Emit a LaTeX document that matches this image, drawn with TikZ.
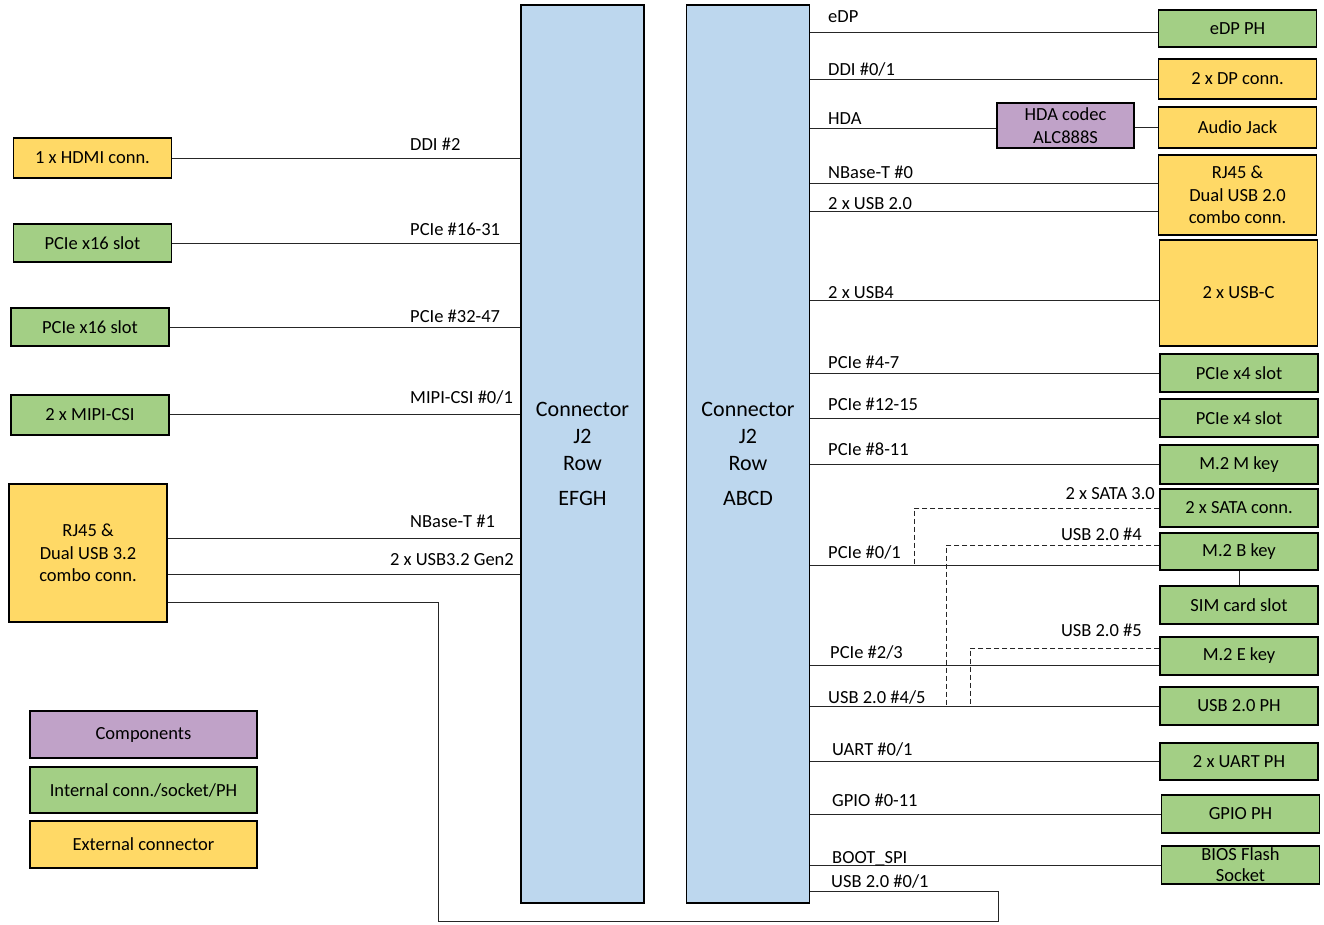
\documentclass[tikz,border=0pt]{standalone}
\usepackage{fontspec}
\setmainfont{Carlito}
\usepackage{tikz}
\usetikzlibrary{calc}

\definecolor{connblue}{HTML}{BDD7EE}
\definecolor{intgreen}{HTML}{A3CF85}
\definecolor{extyellow}{HTML}{FFD966}
\definecolor{comppurple}{HTML}{C0A2C8}

\tikzset{
  box/.style={draw, line width=1.4pt, minimum width=158pt, minimum height=38pt,
              align=center, inner sep=1pt, font=\fontsize{18.5}{22.5}\selectfont},
  int/.style={box, fill=intgreen},
  ext/.style={box, fill=extyellow},
  comp/.style={box, fill=comppurple},
  conn/.style={draw, line width=1.4pt, fill=connblue, minimum width=123pt,
               minimum height=898pt, align=center, font=\fontsize{22}{27}\selectfont},
  lbl/.style={inner sep=0pt, font=\fontsize{18.5}{20}\selectfont},
  wire/.style={line width=0.9pt, black!85},
  side/.style={wire, dash pattern=on 5pt off 3pt}
}

\begin{document}
\begin{tikzpicture}[x=1pt, y=-1pt]
  \useasboundingbox (0,0) rectangle (1324,924);

  % the two rows of connector J2
  \node[conn] (efgh) at (582.5,454) {Connector\\J2\\Row\\[8pt]EFGH};
  \node[conn] (abcd) at (748,454)   {Connector\\J2\\Row\\[8pt]ABCD};

  % left side
  \node[ext] (hdmi)  at (92.5,158) [minimum height=40pt] {1 x HDMI conn.};
  \node[int] (x16a)  at (92.5,243)  {PCIe x16 slot};
  \node[int] (x16b)  at (90,327)    {PCIe x16 slot};
  \node[int] (mipi)  at (90,415) [minimum height=40pt] {2 x MIPI-CSI};
  \node[ext] (rjl)   at (88,553) [minimum height=138pt] {RJ45 \&\\Dual USB 3.2\\combo conn.};

  % legend
  \node[comp] (lgcomp) at (143.5,734.5) [minimum width=227pt, minimum height=47pt] {Components};
  \node[int]  (lgint)  at (143.5,790)   [minimum width=227pt, minimum height=46pt] {Internal conn./socket/PH};
  \node[ext]  (lgext)  at (143.5,844.5) [minimum width=227pt, minimum height=47pt] {External connector};

  % right side
  \node[int]  (edp)   at (1237.5,28.5) [minimum height=37pt] {eDP PH};
  \node[ext]  (dp)    at (1237.5,79) [minimum height=40pt] {2 x DP conn.};
  \node[comp] (codec) at (1065.5,125.5) [minimum width=137pt, minimum height=45pt] {HDA codec\\ALC888S};
  \node[ext]  (audio) at (1237.5,127.5) [minimum height=41pt] {Audio Jack};
  \node[ext]  (rjr)   at (1237.5,195) [minimum height=80pt] {RJ45 \&\\Dual USB 2.0\\combo conn.};
  \node[ext]  (usbc)  at (1238.5,293) [minimum height=106pt] {2 x USB-C};
  \node[int]  (x4a)   at (1239,373)   {PCIe x4 slot};
  \node[int]  (x4b)   at (1239,418)   {PCIe x4 slot};
  \node[int]  (m2m)   at (1239,464.5) [minimum height=39pt] {M.2 M key};
  \node[int]  (sata)  at (1239,508)   {2 x SATA conn.};
  \node[int]  (m2b)   at (1239,551.5) [minimum height=37pt] {M.2 B key};
  \node[int]  (sim)   at (1239,605)   {SIM card slot};
  \node[int]  (m2e)   at (1239,656)   {M.2 E key};
  \node[int]  (usbph) at (1239,706)   {USB 2.0 PH};
  \node[int]  (uart)  at (1239,761.5) [minimum height=37pt] {2 x UART PH};
  \node[int]  (gpio)  at (1240.5,814) {GPIO PH};
  \node[int]  (bios)  at (1240.5,865) [font=\fontsize{18.5}{21}\selectfont] {BIOS Flash\\Socket};

  % left wires
  \draw[wire] (hdmi.east) -- (efgh.west |- hdmi.east);
  \draw[wire] (x16a.east) -- (efgh.west |- x16a.east);
  \draw[wire] (x16b.east) -- (efgh.west |- x16b.east);
  \draw[wire] (mipi.east |- 0,414) -- (efgh.west |- 0,414);
  \draw[wire] (rjl.east |- 0,538) -- (efgh.west |- 0,538);
  \draw[wire] (rjl.east |- 0,574) -- (efgh.west |- 0,574);
  \draw[wire] (rjl.east |- 0,602) -| (438,921) -| (998,891) -- (abcd.east |- 0,891);

  \node[lbl, anchor=base west] (tddi2)  at (410,150) {DDI \#2};
  \node[lbl, anchor=base west] (tx16a)  at (410,235) {PCIe \#16-31};
  \node[lbl, anchor=base west] (tx16b)  at (410,322) {PCIe \#32-47};
  \node[lbl, anchor=base west] (tmipi)  at (410,403) {MIPI-CSI \#0/1};
  \node[lbl, anchor=base west] (tnbt1)  at (410,527) {NBase-T \#1};
  \node[lbl, anchor=base east] (tusb32) at (514,565) {2 x USB3.2 Gen2};

  % right wires
  \draw[wire] (abcd.east |- 0,32)  -- (edp.west |- 0,32);
  \draw[wire] (abcd.east |- 0,79)  -- (dp.west);
  \draw[wire] (abcd.east |- 0,128) -- (codec.west |- 0,128);
  \draw[wire] (codec.east |- 0,127) -- (audio.west |- 0,127);
  \draw[wire] (abcd.east |- 0,183) -- (rjr.west |- 0,183);
  \draw[wire] (abcd.east |- 0,211) -- (rjr.west |- 0,211);
  \draw[wire] (abcd.east |- 0,300) -- (usbc.west |- 0,300);
  \draw[wire] (abcd.east |- x4a.west) -- (x4a.west);
  \draw[wire] (abcd.east |- x4b.west) -- (x4b.west);
  \draw[wire] (abcd.east |- m2m.west) -- (m2m.west);
  \draw[wire] (abcd.east |- 0,565) -- (m2b.west |- 0,565);
  \draw[wire] (abcd.east |- 0,665) -- (m2e.west |- 0,665);
  \draw[wire] (abcd.east |- usbph.west) -- (usbph.west);
  \draw[wire] (abcd.east |- uart.west) -- (uart.west);
  \draw[wire] (abcd.east |- gpio.west) -- (gpio.west);
  \draw[wire] (abcd.east |- bios.west) -- (bios.west);
  \draw[wire] (m2b.south) -- (sim.north);

  \draw[side] (sata.west) -| (914,565);
  \draw[side] (m2b.west |- 0,545) -| (946,706);
  \draw[side] (m2e.west |- 0,648) -| (970,706);

  \node[lbl, anchor=base west] (tedp)   at (828,22)  {eDP};
  \node[lbl, anchor=base west] (tddi01) at (828,75)  {DDI \#0/1};
  \node[lbl, anchor=base west] (thda)   at (828,124) {HDA};
  \node[lbl, anchor=base west] (tnbt0)  at (828,178) {NBase-T \#0};
  \node[lbl, anchor=base west] (tusb20) at (828,209) {2 x USB 2.0};
  \node[lbl, anchor=base west] (tusb4)  at (828,298) {2 x USB4};
  \node[lbl, anchor=base west] (tp47)   at (828,368) {PCIe \#4-7};
  \node[lbl, anchor=base west] (tp1215) at (828,410) {PCIe \#12-15};
  \node[lbl, anchor=base west] (tp811)  at (828,455) {PCIe \#8-11};
  \node[lbl, anchor=base west] (tp01)   at (828,558) {PCIe \#0/1};
  \node[lbl, anchor=base west] (tp23)   at (830,658) {PCIe \#2/3};
  \node[lbl, anchor=base west] (tu45)   at (828,703) {USB 2.0 \#4/5};
  \node[lbl, anchor=base west] (tuart)  at (832,755) {UART \#0/1};
  \node[lbl, anchor=base west] (tgpio)  at (832,806) {GPIO \#0-11};
  \node[lbl, anchor=base west] (tspi)   at (832,863) {BOOT\_SPI};
  \node[lbl, anchor=base west] (tu01)   at (831,887) {USB 2.0 \#0/1};
  \node[lbl, anchor=base east] (tsata)  at (1155,499) {2 x SATA 3.0};
  \node[lbl, anchor=base east] (tu4)    at (1142,540) {USB 2.0 \#4};
  \node[lbl, anchor=base east] (tu5)    at (1142,636) {USB 2.0 \#5};
\end{tikzpicture}
\end{document}
